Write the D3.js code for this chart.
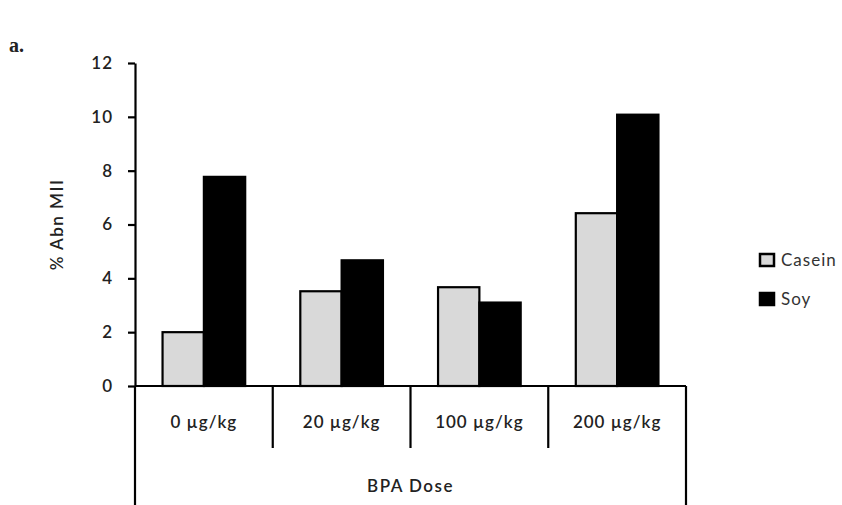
<!DOCTYPE html>
<html><head><meta charset="utf-8">
<script src="https://cdn.jsdelivr.net/npm/d3@7"></script>
<style>body{margin:0;background:#fff}svg{display:block}text{font-family:Lato,"Open Sans",sans-serif}</style>
</head><body><svg id="c" width="842" height="505"></svg>
<script>
const categories = ["0 µg/kg","20 µg/kg","100 µg/kg","200 µg/kg"];
const series = ["Casein","Soy"];
const casein = [2.0, 3.52, 3.67, 6.42];
const soy = [7.77, 4.67, 3.1, 10.08];
const yTicks = [0,2,4,6,8,10,12];
const colors = {"Casein":"#d9d9d9","Soy":"#000000"};
const values = {"Casein":casein,"Soy":soy};

const svg = d3.select("#c");
const L=135, R=686, T=63, B=386;
const x = d3.scaleBand().domain(categories).range([L,R]).padding(0);
const bw = x.bandwidth();
const x1 = d3.scaleBand().domain(series).range([bw*0.2, bw*0.8]).padding(0);
const y = d3.scaleLinear().domain([0,12]).range([B,T]);

svg.append("text").attr("x",9).attr("y",52).text("a.")
  .style("font-family","'Liberation Serif',serif").style("font-weight","bold").style("font-size","20px").attr("fill","#222");

// bars
categories.forEach((c,i)=>{
  series.forEach(s=>{
    const v = values[s][i];
    svg.append("rect").attr("x",x(c)+x1(s)).attr("y",y(v))
      .attr("width",x1.bandwidth()).attr("height",y(0)-y(v))
      .attr("fill",colors[s]).attr("stroke","#000").attr("stroke-width",2.2);
  });
});

// y axis
const ya = svg.append("g").attr("transform",`translate(${L},0)`)
  .call(d3.axisLeft(y).tickValues(yTicks).tickSize(7).tickSizeOuter(0).tickPadding(15));
ya.select(".domain").attr("stroke","#000").attr("stroke-width",2.2);
ya.selectAll(".tick line").attr("stroke","#000").attr("stroke-width",2.2);
ya.selectAll(".tick text").style("font-family","Lato,sans-serif").style("font-size","17px").style("letter-spacing","1px")
  .attr("fill","#222").style("font-weight","600");

svg.append("text").attr("transform",`translate(63,${(T+B)/2}) rotate(-90)`)
  .attr("text-anchor","middle").style("font-size","17px").style("letter-spacing","1.5px").style("font-weight","600")
  .attr("fill","#222").text("% Abn MII");

// category axis box
const g = svg.append("g").attr("stroke","#000").attr("stroke-width",2.2);
g.append("line").attr("x1",L).attr("x2",R).attr("y1",B).attr("y2",B);
g.append("line").attr("x1",L).attr("x2",L).attr("y1",B).attr("y2",505);
g.append("line").attr("x1",R).attr("x2",R).attr("y1",B).attr("y2",505);
categories.slice(1).forEach(c=>{
  g.append("line").attr("x1",x(c)).attr("x2",x(c)).attr("y1",B).attr("y2",448);
});
categories.forEach(c=>{
  svg.append("text").attr("x",x(c)+bw/2).attr("y",428).attr("text-anchor","middle")
    .style("font-size","17px").style("letter-spacing","1px").style("font-weight","600").attr("fill","#222").text(c);
});
svg.append("text").attr("x",(L+R)/2).attr("y",492).attr("text-anchor","middle")
  .style("font-size","17px").style("letter-spacing","1.5px").style("font-weight","600").attr("fill","#222").text("BPA Dose");

// legend
series.forEach((s,i)=>{
  const yy = 254 + i*39;
  svg.append("rect").attr("x",760).attr("y",yy).attr("width",14).attr("height",12)
    .attr("fill",colors[s]).attr("stroke","#000").attr("stroke-width",2.5);
  svg.append("text").attr("x",781).attr("y",yy+12).style("font-size","17px").style("letter-spacing","1px")
    .attr("fill","#333").text(s);
});
</script></body></html>
